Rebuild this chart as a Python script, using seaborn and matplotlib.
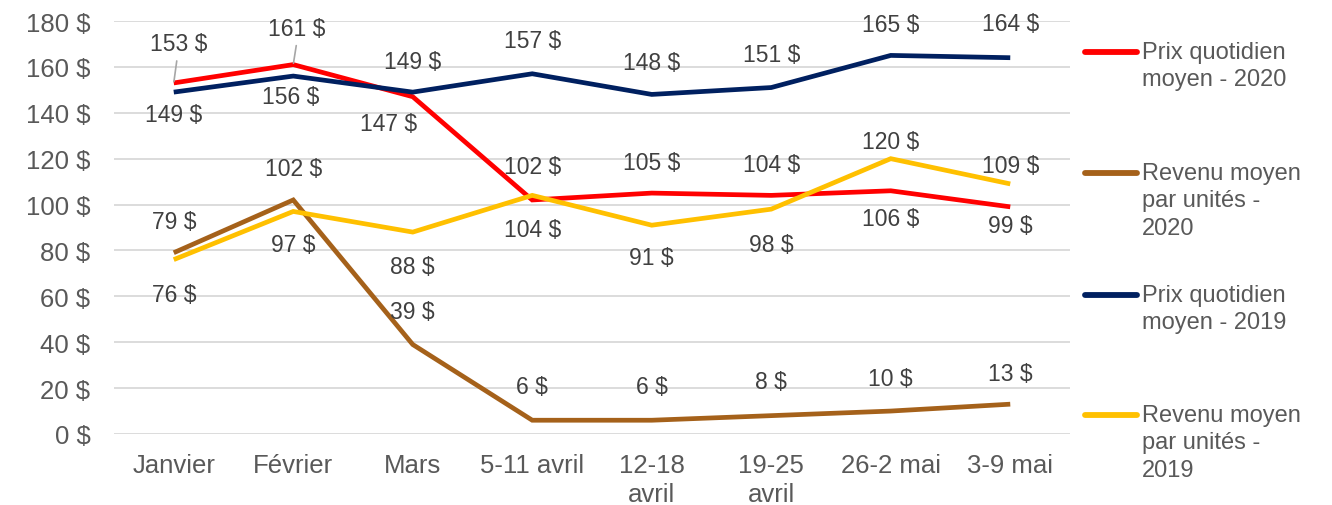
import matplotlib
matplotlib.use("Agg")
import matplotlib.pyplot as plt
import seaborn as sns
import pandas as pd
from matplotlib.lines import Line2D

categories = ["Janvier", "Février", "Mars", "5-11 avril", "12-18\navril",
              "19-25\navril", "26-2 mai", "3-9 mai"]
series_names = ["Prix quotidien\nmoyen - 2020",
                "Revenu moyen\npar unités -\n2020",
                "Prix quotidien\nmoyen - 2019",
                "Revenu moyen\npar unités -\n2019"]
prix_2020 = [153, 161, 147, 102, 105, 104, 106, 99]
revenu_2020 = [79, 102, 39, 6, 6, 8, 10, 13]
prix_2019 = [149, 156, 149, 157, 148, 151, 165, 164]
revenu_2019 = [76, 97, 88, 104, 91, 98, 120, 109]
yticks = list(range(0, 181, 20))

colors = ["#FF0000", "#A5611A", "#002060", "#FFC000"]
all_values = [prix_2020, revenu_2020, prix_2019, revenu_2019]

# label offsets in pixels (dx, dy up-positive)
label_offsets = [
    [(5, 39), (3, 36), (-24, -27), (0, 33), (0, 31), (0, 31), (0, -28), (0, -19)],
    [(0, 31), (0, 31), (0, 33), (0, 34), (0, 34), (0, 34), (0, 33), (0, 31)],
    [(0, -22), (-3, -20), (0, 31), (0, 33), (0, 32), (0, 33), (0, 31), (0, 34)],
    [(0, -35), (0, -33), (0, -34), (0, -34), (0, -32), (0, -35), (0, 17), (0, 18)],
]

rows = []
for name, vals in zip(series_names, all_values):
    for i, v in enumerate(vals):
        rows.append({"x": i, "value": v, "series": name})
df = pd.DataFrame(rows)

sns.set_style("white")
plt.rcParams["font.family"] = ["Liberation Sans", "DejaVu Sans"]

fig = plt.figure(figsize=(13.32, 5.06), dpi=100)
ax = fig.add_axes([114 / 1332, 1 - 435 / 506, (1070 - 114) / 1332, 413 / 506])

sns.lineplot(data=df, x="x", y="value", hue="series", hue_order=series_names,
             palette=colors, linewidth=3.4, ax=ax, legend=False, sort=False)
for line in ax.get_lines():
    line.set_solid_capstyle("butt")
    line.set_solid_joinstyle("miter")

ax.set_xlim(-0.5, 7.5)
ax.set_ylim(0, 180)
ax.set_yticks(yticks)
ax.set_yticklabels([f"{t} $" for t in yticks])
ax.set_xticks(range(len(categories)))
ax.set_xticklabels(categories, linespacing=1.22)
ax.set_xlabel("")
ax.set_ylabel("")
ax.tick_params(axis="y", labelsize=18.5, colors="#595959", length=0, pad=17)
ax.tick_params(axis="x", labelsize=18.5, colors="#595959", length=0, pad=14)
for s in ax.spines.values():
    s.set_visible(False)
ax.yaxis.grid(True, color="#D9D9D9", linewidth=1.3)
ax.set_axisbelow(True)

for si, vals in enumerate(all_values):
    for i, v in enumerate(vals):
        dx, dy = label_offsets[si][i]
        ax.annotate(f"{v} $", xy=(i, v), xytext=(dx, dy), textcoords="offset pixels",
                    ha="center", va="center", fontsize=16.5, color="#404040", zorder=5)

# leader lines for first two red labels
for i, (dx0, dy0) in [(0, (3, 22)), (1, (3, 19))]:
    ax.annotate("", xy=(i, prix_2020[i]), xytext=(dx0, dy0), textcoords="offset pixels",
                arrowprops=dict(arrowstyle="-", color="#A6A6A6", lw=1.2,
                                shrinkA=0, shrinkB=1))

# legend on the right
legend_tops = [42, 163, 285, 405]
for name, col, top in zip(series_names, colors, legend_tops):
    yl = 1 - (top + 11) / 506
    fig.add_artist(Line2D([1085 / 1332, 1137 / 1332], [yl, yl], color=col,
                          linewidth=4.2, solid_capstyle="round",
                          transform=fig.transFigure))
    fig.text(1142 / 1332, 1 - top / 506, name, ha="left", va="top",
             fontsize=17, color="#595959", linespacing=1.32)

fig.savefig("out.png", dpi=100)
